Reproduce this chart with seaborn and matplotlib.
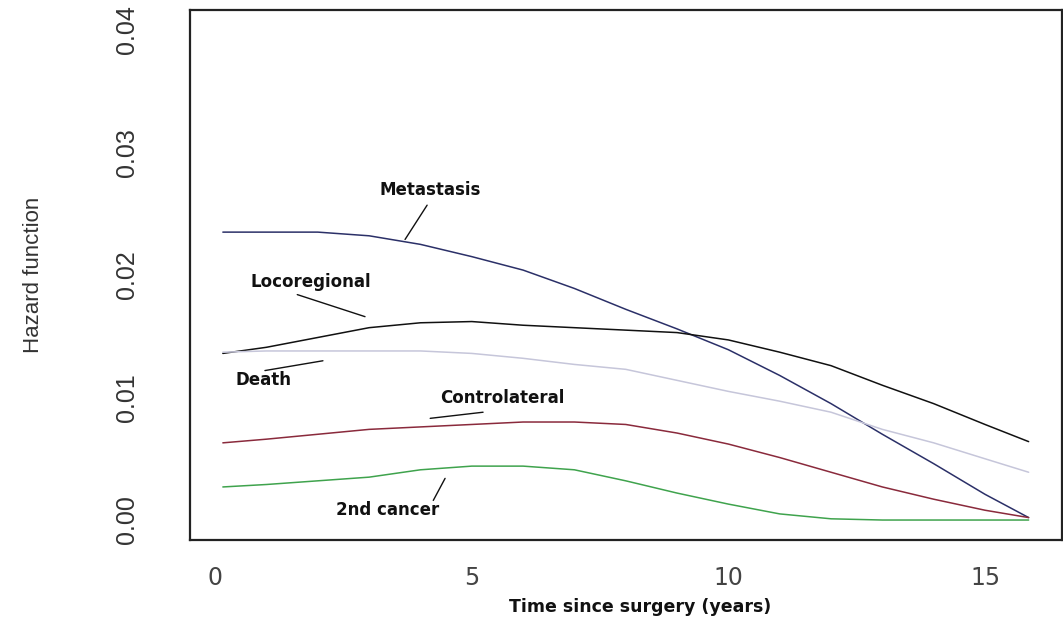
import numpy as np
import pandas as pd
import matplotlib
matplotlib.use('Agg')
import matplotlib.pyplot as plt
import seaborn as sns

sns.set_style('white')
plt.rcParams['font.family'] = ['DejaVu Sans']

# time grid (years since surgery)
years = [0.15, 1, 2, 3, 4, 5, 6, 7, 8, 9, 10, 11, 12, 13, 14, 15, 15.85]

metastasis    = [0.0235, 0.0235, 0.0235, 0.0232, 0.0225, 0.0215, 0.0204, 0.0189, 0.0172,
                 0.0156, 0.0139, 0.0118, 0.0095, 0.0070, 0.0046, 0.0021, 0.0002]
locoregional  = [0.0136, 0.0141, 0.0149, 0.0157, 0.0161, 0.0162, 0.0159, 0.0157, 0.0155,
                 0.0153, 0.0147, 0.0137, 0.0126, 0.0110, 0.0095, 0.0078, 0.0064]
death         = [0.0137, 0.0138, 0.0138, 0.0138, 0.0138, 0.0136, 0.0132, 0.0127, 0.0123,
                 0.0114, 0.0105, 0.0097, 0.0088, 0.0074, 0.0063, 0.0050, 0.0039]
controlateral = [0.0063, 0.0066, 0.0070, 0.0074, 0.0076, 0.0078, 0.0080, 0.0080, 0.0078,
                 0.0071, 0.0062, 0.0051, 0.0039, 0.0027, 0.0017, 0.0008, 0.0002]
second_cancer = [0.0027, 0.0029, 0.0032, 0.0035, 0.0041, 0.0044, 0.0044, 0.0041, 0.0032,
                 0.0022, 0.0013, 0.0005, 0.0001, 0.0000, 0.0000, 0.0000, 0.0000]

causes = ['Metastasis', 'Locoregional', 'Death', 'Controlateral', '2nd cancer']
colors = ['#2b3068', '#111111', '#c6c6da', '#8a2a3c', '#3fa34d']

x_ticks = [0, 5, 10, 15]
y_ticks = [0.00, 0.01, 0.02, 0.03, 0.04]
y_tick_labels = ['0.00', '0.01', '0.02', '0.03', '0.04']

series = [metastasis, locoregional, death, controlateral, second_cancer]
df = pd.concat([pd.DataFrame({'years': years, 'hazard': vals, 'cause': name})
                for name, vals in zip(causes, series)], ignore_index=True)

narrow = ['Liberation Sans', 'DejaVu Sans']

fig = plt.figure(figsize=(10.63, 6.24), dpi=100)
ax = fig.add_axes([190/1063, 84/624, 872/1063, 530/624])

sns.lineplot(data=df, x='years', y='hazard', hue='cause', hue_order=causes,
             palette=dict(zip(causes, colors)), linewidth=1.1, legend=False, ax=ax)

ax.set_xlim(-0.49, 16.5)
ax.set_ylim(-0.00163, 0.04163)
ax.set_xticks(x_ticks)
ax.set_xticklabels([str(v) for v in x_ticks])
ax.set_yticks(y_ticks)
ax.set_yticklabels(y_tick_labels)

for s in ax.spines.values():
    s.set_color('#222222')
    s.set_linewidth(1.6)

ax.tick_params(axis='y', length=18, width=1.3, pad=19, labelrotation=90,
               labelsize=18, labelcolor='#333333', color='#222222')
ax.tick_params(axis='x', length=10, width=1.3, pad=9, labelsize=17,
               labelcolor='#444444', color='#222222')
for lab in ax.get_yticklabels():
    lab.set_family(narrow)
    lab.set_va('center')

ax.set_xlabel('Time since surgery (years)', fontsize=12.5, fontweight='bold', color='#111111')
ax.xaxis.set_label_coords(0.516, -0.11)
ax.set_ylabel('Hazard function', fontsize=16, color='#333333', family=narrow)
ax.yaxis.set_label_coords(-0.168, 0.5)

lab_kw = dict(fontsize=12, fontweight='bold', ha='center', va='center', color='#111111')
line_kw = dict(arrowstyle='-', color='#111111', lw=1.0, shrinkA=0, shrinkB=0)

ax.text(4.19, 0.0269, 'Metastasis', **lab_kw)
ax.annotate('', xy=(3.70, 0.0229), xytext=(4.13, 0.0257), arrowprops=line_kw)

ax.text(1.87, 0.0194, 'Locoregional', **lab_kw)
ax.annotate('', xy=(2.92, 0.0166), xytext=(1.60, 0.0184), arrowprops=line_kw)

ax.text(0.935, 0.0114, 'Death', **lab_kw)
ax.annotate('', xy=(2.10, 0.0130), xytext=(0.97, 0.0122), arrowprops=line_kw)

ax.text(5.59, 0.0100, 'Controlateral', **lab_kw)
ax.annotate('', xy=(5.22, 0.0088), xytext=(4.19, 0.0083), arrowprops=line_kw)

ax.text(3.37, 0.0008, '2nd cancer', **lab_kw)
ax.annotate('', xy=(4.48, 0.0034), xytext=(4.25, 0.0016), arrowprops=line_kw)

fig.savefig('out.png', dpi=100)
